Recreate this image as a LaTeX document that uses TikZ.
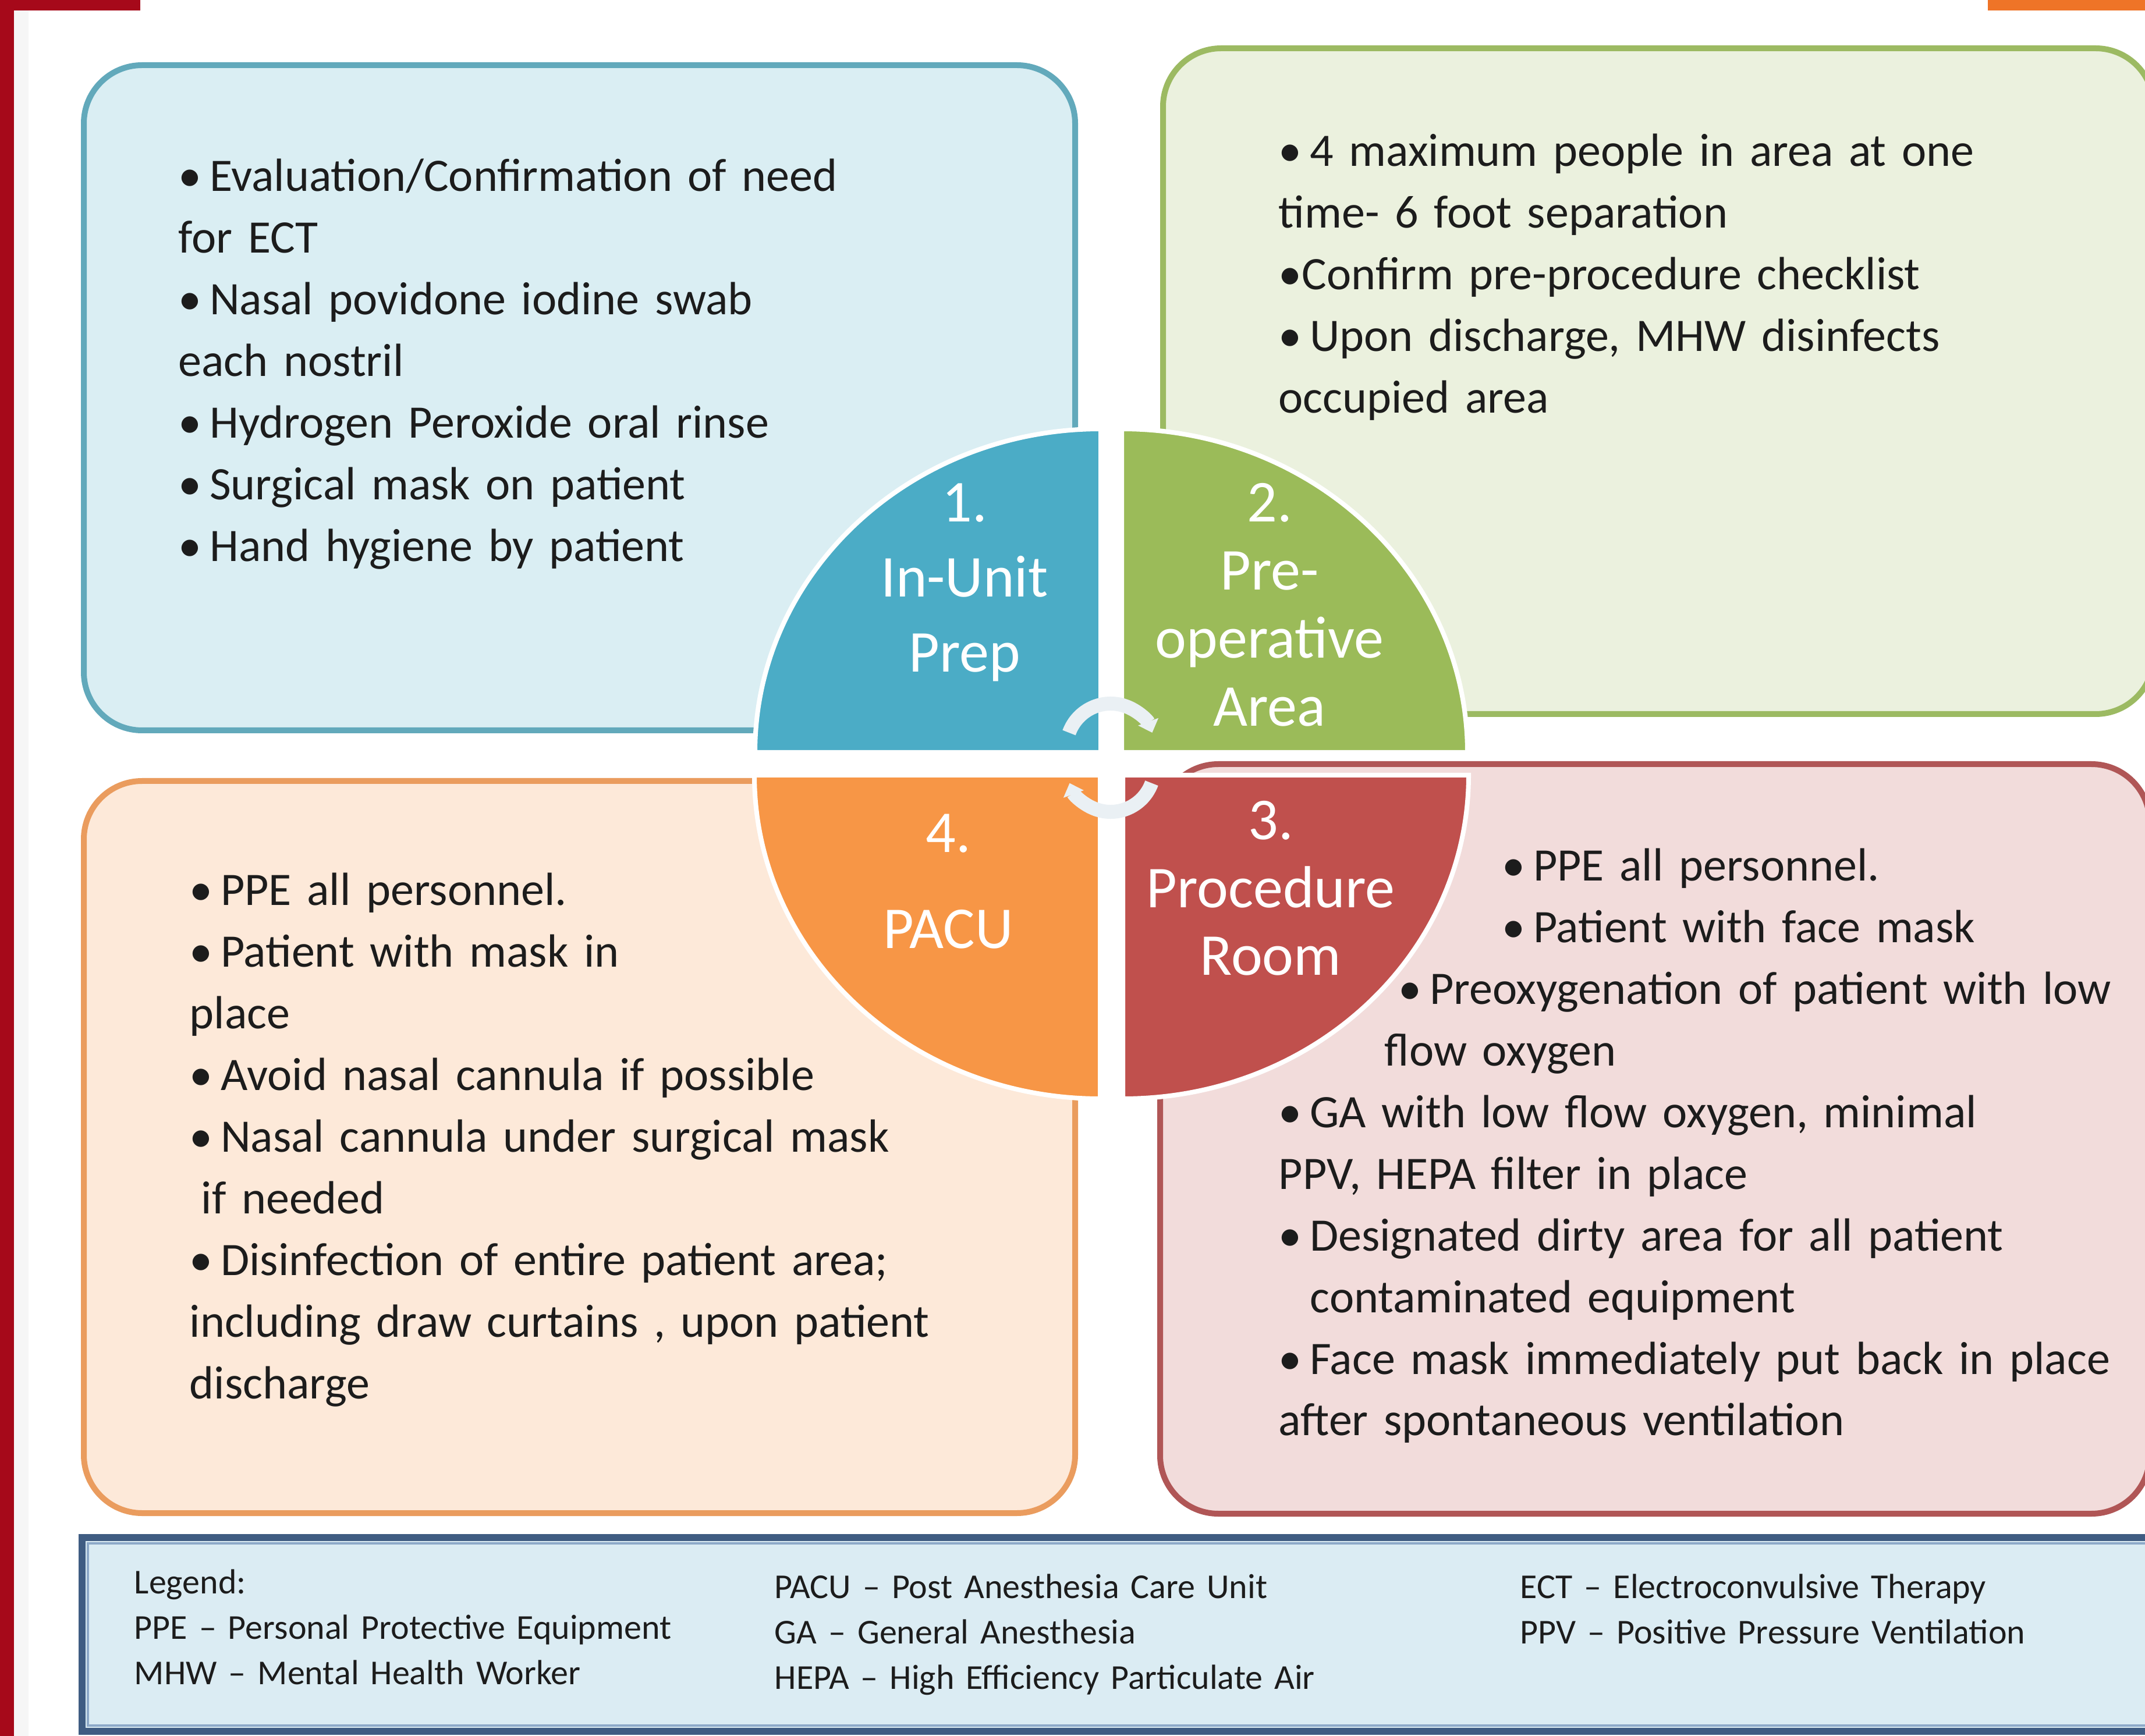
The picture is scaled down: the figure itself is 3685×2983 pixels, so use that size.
\documentclass[tikz,border=0pt]{standalone}
\usepackage{fontspec}
\setmainfont{Carlito}
\usepackage{tikz}
\usetikzlibrary{arrows.meta}
\usepackage{xcolor}
\definecolor{qblue}{HTML}{4BACC6}
\definecolor{qgreen}{HTML}{9BBB59}
\definecolor{qred}{HTML}{C0504D}
\definecolor{qorange}{HTML}{F79646}
\definecolor{pblue}{HTML}{DAEEF3}
\definecolor{pgreen}{HTML}{EBF1DE}
\definecolor{pred}{HTML}{F2DCDB}
\definecolor{porange}{HTML}{FDE9D9}
\definecolor{lblue}{HTML}{62A9BB}
\definecolor{lgreen}{HTML}{9CBA62}
\definecolor{lred}{HTML}{B05656}
\definecolor{lorange}{HTML}{EA9C5E}
\definecolor{legfill}{HTML}{DBECF3}
\definecolor{legline}{HTML}{3F5C82}
\definecolor{legin}{HTML}{8DA9C8}
\definecolor{barred}{HTML}{A6091A}
\definecolor{barorange}{HTML}{EF7427}
\definecolor{arcfill}{HTML}{EAF0F4}
\definecolor{ink}{HTML}{1C1C1C}
\newcommand{\bp}{•\hspace{3.4pt}}
\tikzset{
  panel/.style    = {line width=2.5pt, rounded corners=25pt},
  quad/.style     = {draw=white, line width=2pt},
  bodytext/.style = {anchor=base west, inner sep=0pt, text width=400pt,
                     align=left, text=ink,
                     font=\fontsize{20}{26.5}\selectfont},
  qlabel/.style   = {anchor=base, inner sep=0pt, text width=160pt,
                     align=center, text=white},
  legtext/.style  = {anchor=base west, inner sep=0pt, text width=300pt,
                     align=left, text=ink,
                     font=\fontsize{15}{19.5}\selectfont},
  cyc/.style      = {arcfill, line width=6pt,
                     -{Triangle[length=5pt,width=9pt]}},
}
\begin{document}
\begin{tikzpicture}[x=0.25pt,y=-0.25pt]
\useasboundingbox (0,0) rectangle (3685,2983);
\clip (0,0) rectangle (3685,2983);
\fill[white] (0,0) rectangle (3685,2983);
\fill[gray!7] (24,18) rectangle (49,2983);
\fill[barred] (0,0) rectangle (24,2983);
\fill[barred] (0,0) rectangle (241,18);
\fill[barorange] (3415,0) rectangle (3685,18);

\filldraw[panel,draw=lblue,fill=pblue] (144,112) rectangle (1847,1255);
\filldraw[panel,draw=lgreen,fill=pgreen] (1998,83) rectangle (3700,1227);
\filldraw[panel,draw=lred,fill=pred] (1993,1313) rectangle (3693,2601);
\filldraw[panel,draw=lorange,fill=porange] (144,1342) rectangle (1847,2600);

\filldraw[quad,fill=qblue] (1891,1293) -- (1297,1293)
  arc[start angle=180,end angle=270,x radius=594,y radius=556] -- cycle;
\filldraw[quad,fill=qgreen] (1927,1293) -- (1927,737)
  arc[start angle=270,end angle=360,x radius=594,y radius=556] -- cycle;
\filldraw[quad,fill=qred] (1929,1332) -- (2523,1332)
  arc[start angle=0,end angle=90,x radius=594,y radius=556] -- cycle;
\filldraw[quad,fill=qorange] (1890,1332) -- (1890,1888)
  arc[start angle=90,end angle=180,x radius=594,y radius=556] -- cycle;

\coordinate (hubtop) at (1908,1285);
\coordinate (hubbot) at (1908,1320);
\draw[cyc] (hubtop) ++(-160:76) arc[start angle=-160,end angle=-20,radius=76];
\draw[cyc] (hubbot) ++(20:75) arc[start angle=20,end angle=160,radius=75];

\node[qlabel,font=\fontsize{25.5}{32.25}\selectfont] (q1) at (1657,897)
  {1.\\In-Unit\\Prep};
\node[qlabel,font=\fontsize{25.5}{29.25}\selectfont] (q2) at (2181,897)
  {2.\\Pre-\\operative\\Area};
\node[qlabel,font=\fontsize{25.5}{29.25}\selectfont] (q3) at (2183,1442)
  {3.\\Procedure\\Room};
\node[qlabel,font=\fontsize{25.5}{29.25}\selectfont] (q4) at (1629,1465)
  {4.\\[12pt]PACU};

\node[bodytext] (t1) at (306,329)
  {\bp Evaluation/Confirmation of need\\
   for ECT\\
   \bp Nasal povidone iodine swab\\
   each nostril\\
   \bp Hydrogen Peroxide oral rinse\\
   \bp Surgical mask on patient\\
   \bp Hand hygiene by patient};
\node[bodytext] (t2) at (2196,286)
  {\bp 4 maximum people in area at one\\
   time- 6 foot separation\\
   •Confirm pre-procedure checklist\\
   \bp Upon discharge, MHW disinfects\\
   occupied area};
\node[bodytext] (t3) at (2196,1513)
  {\hspace*{96pt}\bp PPE all personnel.\\
   \hspace*{96pt}\bp Patient with face mask\\
   \hspace*{51.5pt}\bp Preoxygenation of patient with low\\
   \hspace*{45.5pt}flow oxygen\\
   \bp GA with low flow oxygen, minimal\\
   PPV, HEPA filter in place\\
   \bp Designated dirty area for all patient\\
   \hspace*{13.5pt}contaminated equipment\\
   \bp Face mask immediately put back in place\\
   after spontaneous ventilation};
\node[bodytext] (t4) at (325,1555)
  {\bp PPE all personnel.\\
   \bp Patient with mask in\\
   place\\
   \bp Avoid nasal cannula if possible\\
   \bp Nasal cannula under surgical mask\\
   \hspace*{5pt}if needed\\
   \bp Disinfection of entire patient area;\\
   including draw curtains , upon patient\\
   discharge};

\filldraw[legline,fill=legfill,line width=3pt] (141,2642) rectangle (3720,2975);
\draw[legin,line width=1.2pt] (151,2652) rectangle (3710,2965);
\node[legtext] (leg1) at (230,2738)
  {Legend:\\
   PPE – Personal Protective Equipment\\
   MHW – Mental Health Worker};
\node[legtext] (leg2) at (1330,2746)
  {PACU – Post Anesthesia Care Unit\\
   GA – General Anesthesia\\
   HEPA – High Efficiency Particulate Air};
\node[legtext] (leg3) at (2611,2746)
  {ECT – Electroconvulsive Therapy\\
   PPV – Positive Pressure Ventilation};
\end{tikzpicture}
\end{document}
